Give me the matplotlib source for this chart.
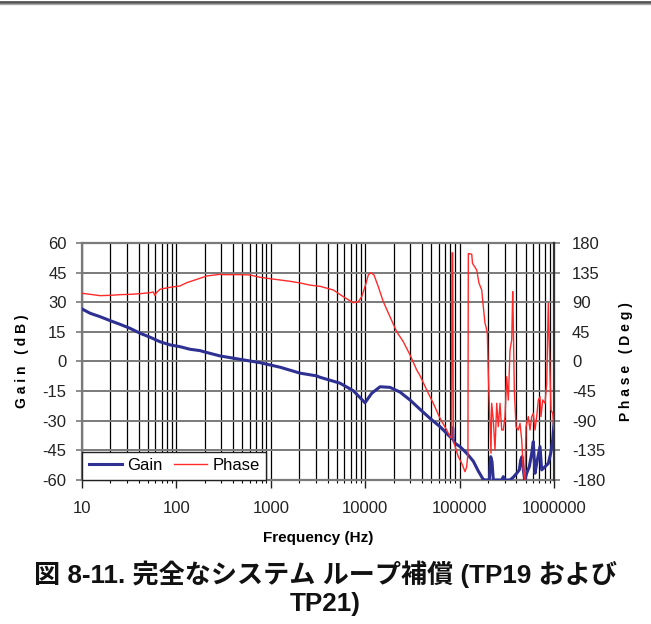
"""
Loop gain / phase plot (TP19 and TP21)
"""
import matplotlib
matplotlib.use("Agg")
import matplotlib.pyplot as plt
from matplotlib.lines import Line2D
from matplotlib.ticker import FixedLocator, FuncFormatter, LogLocator, NullFormatter

# Gain trace (Hz, dB)
gain_freq = [10, 12.2, 15.5, 19.8, 25.3, 32.2, 41.2, 52.5, 67, 85.6, 109, 139,
             178, 193, 290, 472, 768, 1252, 2038, 3063, 3321, 5410, 7480,
             9950, 11720, 14350, 18300, 23370, 29830, 38070, 48590, 62020,
             79140, 83700, 84500, 85800, 89400, 101000, 119000, 139700,
             157800, 175700, 178300, 206400, 213500, 220400, 227500, 279300,
             290400, 302700, 342000, 370600, 402700, 429000, 443900, 458200,
             472900, 489300, 513800, 547400, 580500, 603600, 629100, 665400,
             710600, 740700, 803000, 870100, 922600, 968800, 1000000]
gain_db = [26.6, 24.4, 22.7, 20.7, 18.8, 16.8, 14.3, 12.3, 10.0, 8.4, 7.5, 6.2,
           5.5, 5.0, 2.8, 1.1, -0.6, -2.9, -5.9, -7.3, -8.0, -11.0, -14.8,
           -20.9, -16.1, -12.8, -13.1, -15.5, -19.5, -24.2, -28.8, -33.0,
           -38.1, -39.0, -33.5, -39.7, -41.4, -43.1, -46.5, -50.5,
           -55.5, -59.3, -60.0, -60.0, -48.2, -50.7, -60.0, -60.0,
           -58.3, -60.0, -60.0, -58.6, -56.6, -54.9, -49.9, -48.2,
           -54.9, -60.0, -56.6, -53.3, -46.5, -40.6, -56.6, -49.9,
           -43.1, -54.9, -53.3, -51.6, -46.5, -39.7, -31.3]

# Phase trace (Hz, deg)
phase_freq = [10, 12.2, 15.5, 19.8, 25.3, 32.2, 41.2, 52.5, 56.9, 59.3, 61,
              67, 85.6, 109, 128.6, 177.8, 209.4, 290, 314, 472, 602, 768,
              980, 1252, 1597, 2038, 2603, 3321, 4594, 5861, 7480, 8452,
              9182, 9950, 10790, 11440, 12390, 13760, 15550, 18300, 21570,
              25330, 29830, 35130, 38070, 44820, 52650, 62020, 72990, 79140,
              82000, 83000, 84500, 85800, 96870, 105300, 114100, 118900,
              122500, 123700, 134400, 137000, 151800, 160500, 171500,
              178300, 185800, 190400, 196600, 201400, 209900, 215100,
              218800, 227500, 237100, 247200, 257000, 267900, 279300,
              290400, 302700, 315400, 328100, 342000, 356400, 365200,
              370600, 379700, 395900, 418700, 436400, 454900, 472900,
              492900, 505100, 534300, 556900, 580500, 603600, 629100,
              655700, 681800, 710600, 728200, 759000, 803000, 836900,
              870100, 907000, 929400, 968800, 1000000]
phase_deg = [103.6, 102, 100, 100.5, 101.5, 102, 103, 104.5, 105.5, 100, 104,
             109.7, 112.7, 114.7, 119.7, 126.4, 129.9, 132.4, 131.9, 131.9,
             131.4, 127.9, 125.8, 123.8, 121.8, 119.3, 116, 114.2, 108.6,
             98.4, 89.3, 90.8, 98.4, 113.6, 131.4, 134.9, 131.4, 113.6, 90.8,
             68, 45.2, 30, 10, -12.9, -21.5, -43.3, -63.5, -86.3, -104.1,
             -114.2, -116, 165, 165, -120, -144.6, -154.7, -167.4, -159.8,
             -140, 164, 163, 149, 139, 119, 108.6, 83.2, 58, 52.9, 42.8,
             -18, -93.9, -139.4, -63.5, -88.9, -134.4, -63.5, -99, -63.5,
             -104.1, -104.1, -83.8, -23.1, -58.5, 17.5, 32.7, 106.1, 58,
             -43.3, -99, -104.1, -93.9, -119.2, -164.8, -180, -99, -83.8,
             -104.1, -83.8, -78.7, -104.1, -83.8, -58.5, -53.4, -83.8,
             -58.5, -63.5, -33.2, 88.4, -18, -73.7, -78.7, -104.1]

gain_ticks = [-60, -45, -30, -15, 0, 15, 30, 45, 60]
phase_ticks = [-180, -135, -90, -45, 0, 45, 90, 135, 180]
freq_ticks = [10, 100, 1000, 10000, 100000, 1000000]

plt.rcParams["font.family"] = ["Liberation Sans", "DejaVu Sans"]
plt.rcParams["axes.unicode_minus"] = False

fig = plt.figure(figsize=(6.51, 6.24), dpi=100)
ax = fig.add_axes([0.126, 0.2308, 0.725, 0.3798])
ax2 = ax.twinx()

ax.semilogx(gain_freq, gain_db, color="#2E3192", lw=2.2, label="Gain", zorder=4)
ax2.semilogx(phase_freq, phase_deg, color="#FF2A2A", lw=1.0, label="Phase", zorder=3)

ax.set_xlim(10, 1000000)
ax.set_ylim(-60, 60)
ax2.set_ylim(-180, 180)
ax.set_yticks(gain_ticks)
ax2.set_yticks(phase_ticks)

ax.xaxis.set_major_locator(FixedLocator(freq_ticks))
ax.xaxis.set_major_formatter(FuncFormatter(lambda v, p: f"{int(round(v))}"))
ax.xaxis.set_minor_locator(LogLocator(base=10, subs=range(2, 10)))
ax.xaxis.set_minor_formatter(NullFormatter())

# grid: black verticals at every log step, grey horizontals every 15 dB
ax.grid(True, which="both", axis="x", color="black", lw=0.9)
ax.grid(True, which="major", axis="y", color="#7a7a7a", lw=1.4)
ax.set_axisbelow(True)

for a in (ax, ax2):
    a.tick_params(axis="both", labelsize=12, colors="#222222")
ax.tick_params(axis="x", which="major", length=6, width=1, pad=9)
ax.tick_params(axis="x", which="minor", length=2, width=0.8)
ax.tick_params(axis="y", length=4, width=1.2, color="#7a7a7a", pad=7)
ax2.tick_params(axis="y", length=4, width=1.2, color="#7a7a7a", pad=9)

for side in ("left", "bottom", "top"):
    ax.spines[side].set_color("#7a7a7a")
    ax.spines[side].set_linewidth(1.6)
ax2.spines["right"].set_color("#333333")
ax2.spines["right"].set_linewidth(1.6)
for side in ("left", "bottom", "top"):
    ax2.spines[side].set_visible(False)

ax.set_xlabel("Frequency (Hz)", fontsize=11, fontweight="bold", labelpad=11)
ax.set_ylabel("G a i n   ( d B )", fontsize=10, fontweight="bold", labelpad=10)
ax2.set_ylabel("P h a s e   ( D e g )", fontsize=10, fontweight="bold", labelpad=10)

# legend in the lower-left corner of the plot
handles = [Line2D([], [], color="#2E3192", lw=2.2),
           Line2D([], [], color="#FF2A2A", lw=1.0)]
leg = ax2.legend(handles, ["Gain", "Phase"], loc="lower left", ncol=2,
                 bbox_to_anchor=(0, 0), borderaxespad=0, fontsize=12,
                 frameon=True, fancybox=False, framealpha=1,
                 handlelength=2.0, handletextpad=0.3, columnspacing=0.7,
                 borderpad=0.4)
leg.get_frame().set_edgecolor("#222222")
leg.get_frame().set_linewidth(1.0)
leg.set_zorder(10)

# rule across the top of the page
fig.add_artist(Line2D([0, 1], [0.9960, 0.9960], color="#555555", lw=2.0))
fig.add_artist(Line2D([0, 1], [0.9935, 0.9935], color="#aaaaaa", lw=1.0))

cap_font = ["Liberation Sans", "Noto Sans CJK JP"]
fig.text(0.5, 0.080, "図 8-11. 完全なシステム ループ補償 (TP19 および",
         ha="center", va="center", fontsize=18.8, fontweight="bold",
         family=cap_font, color="#111111")
fig.text(0.5, 0.032, "TP21)", ha="center", va="center", fontsize=18.8,
         fontweight="bold", family=cap_font, color="#111111")

fig.savefig("out.png", dpi=100)
